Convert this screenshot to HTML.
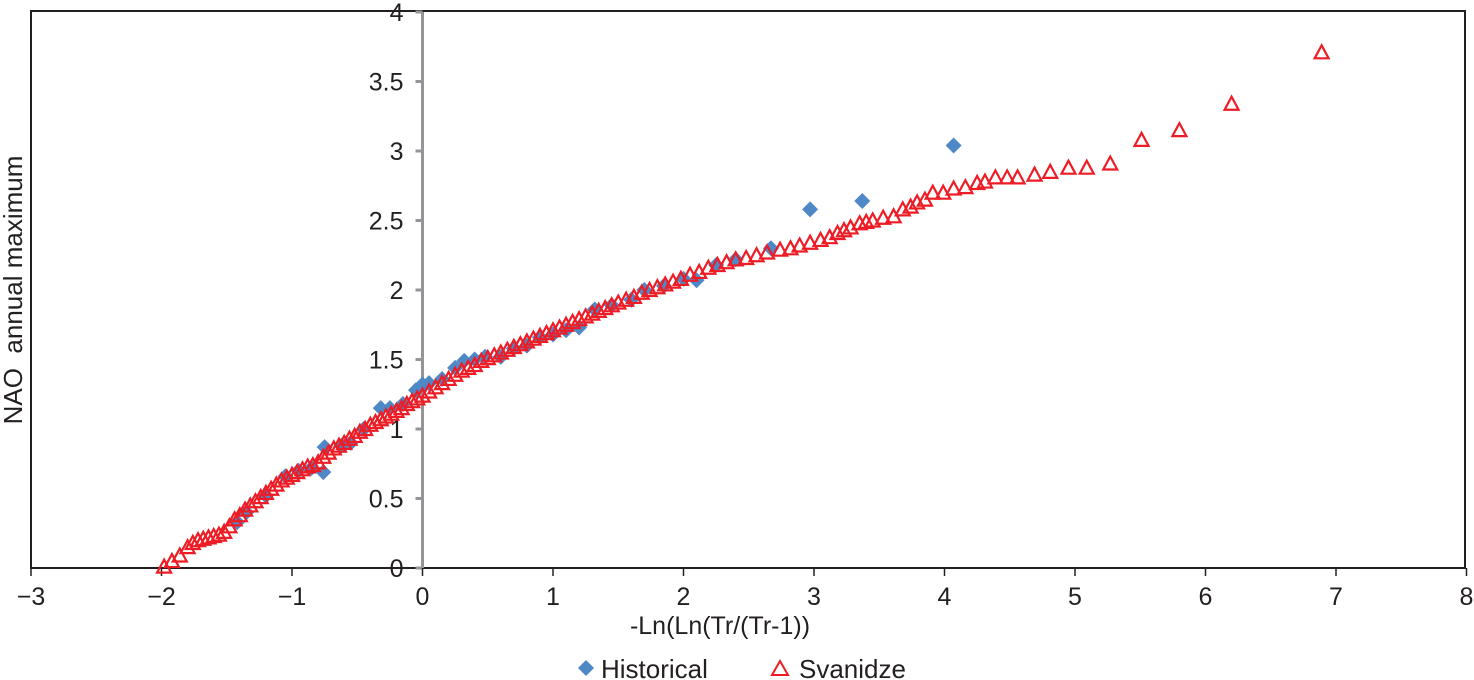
<!DOCTYPE html>
<html><head><meta charset="utf-8"><style>
body{margin:0;background:#fff;}
svg{display:block;font-family:"Liberation Sans",Arial,sans-serif;}
</style></head><body>
<svg id="chart" width="1474" height="680" viewBox="0 0 1474 680" xmlns="http://www.w3.org/2000/svg">
<rect x="31" y="11" width="1434" height="557" fill="#fff" stroke="#231f20" stroke-width="2"/>
<g id="axes"></g>
<g id="hist"></g>
<g id="svan"></g>
<text x="720" y="634" font-size="25" text-anchor="middle" fill="#231f20">-Ln(Ln(Tr/(Tr-1))</text>
<text transform="translate(22,290) rotate(-90)" font-size="26" text-anchor="middle" fill="#231f20" xml:space="preserve">NAO  annual maximum</text>
<g>
<g>
<path d="M586 660 L594 668 L586 676 L578 668 Z" fill="#4f88c6"/>
<text x="601" y="678" font-size="26" fill="#231f20">Historical</text>
</g>
<g>
<path d="M772 675 L780 661 L788 675 Z" fill="none" stroke="#ee1c25" stroke-width="2"/>
<text x="799" y="678" font-size="26" fill="#231f20">Svanidze</text>
</g>
</g>
</svg>
<script>
const xTicks=[-3,-2,-1,0,1,2,3,4,5,6,7,8];
const yTicks=[0,0.5,1,1.5,2,2.5,3,3.5,4];
const svX=[-1.98,-1.92,-1.86,-1.80,-1.76,-1.72,-1.68,-1.64,-1.60,-1.56,-1.52,-1.48,-1.44,-1.40,-1.36,-1.32,-1.28,-1.24,-1.20,-1.16,-1.12,-1.08,-1.04,-1.00,-0.96,-0.92,-0.88,-0.84,-0.80,-0.76,-0.72,-0.68,-0.64,-0.60,-0.56,-0.52,-0.48,-0.44,-0.40,-0.36,-0.32,-0.28,-0.24,-0.20,-0.16,-0.12,-0.08,-0.04,0.00,0.05,0.10,0.15,0.20,0.25,0.30,0.35,0.40,0.45,0.50,0.55,0.60,0.65,0.70,0.75,0.80,0.85,0.90,0.95,1.00,1.05,1.10,1.15,1.20,1.25,1.30,1.35,1.40,1.45,1.50,1.56,1.62,1.68,1.74,1.80,1.86,1.92,1.98,2.05,2.12,2.19,2.26,2.33,
2.40,2.48,2.56,2.64,2.74,2.82,2.89,2.97,3.05,3.12,3.18,3.23,3.28,3.35,3.40,3.45,3.53,3.61,3.68,3.74,3.79,3.85,3.91,3.99,4.07,4.16,4.25,4.31,4.39,4.48,4.56,4.69,4.81,4.95,5.09,5.27,5.51,5.80,6.20,6.89];
const svY=[0.01,0.05,0.09,0.15,0.18,0.20,0.21,0.22,0.23,0.24,0.26,0.30,0.35,0.38,0.42,0.45,0.48,0.51,0.54,0.57,0.60,0.63,0.65,0.67,0.69,0.71,0.73,0.74,0.76,0.80,0.83,0.86,0.88,0.90,0.93,0.95,0.98,1.00,1.03,1.05,1.07,1.09,1.11,1.13,1.15,1.18,1.20,1.22,1.24,1.27,1.30,1.33,1.36,1.39,1.42,1.44,1.46,1.49,1.51,1.53,1.55,1.57,1.59,1.61,1.63,1.65,1.67,1.69,1.71,1.73,1.75,1.77,1.79,1.81,1.83,1.85,1.87,1.89,1.91,1.93,1.95,1.98,2.00,2.02,2.04,2.06,2.08,2.11,2.13,2.16,2.18,2.20,
2.22,2.23,2.25,2.27,2.29,2.30,2.32,2.34,2.36,2.38,2.41,2.43,2.45,2.48,2.49,2.50,2.52,2.53,2.58,2.60,2.63,2.65,2.70,2.70,2.73,2.74,2.77,2.78,2.81,2.81,2.81,2.83,2.85,2.88,2.88,2.91,3.08,3.15,3.34,3.71];
const hX=[-1.42,-1.35,-1.2,-1.05,-0.95,-0.85,-0.76,-0.75,-0.62,-0.55,-0.45,-0.32,-0.25,-0.15,-0.05,0.0,0.05,0.15,0.25,0.32,0.4,0.48,0.6,0.7,0.8,0.9,1.0,1.1,1.2,1.32,1.45,1.6,1.7,1.85,2.0,2.1,2.25,2.4,2.67,2.97,3.37,4.07];
const hY=[0.33,0.40,0.52,0.66,0.70,0.72,0.69,0.87,0.88,0.90,1.00,1.15,1.15,1.18,1.28,1.32,1.33,1.36,1.44,1.49,1.50,1.52,1.52,1.58,1.60,1.66,1.68,1.71,1.73,1.86,1.89,1.93,2.00,2.03,2.08,2.07,2.18,2.22,2.30,2.58,2.64,3.04];
const NS='http://www.w3.org/2000/svg';
const sx=v=>422.5+v*130.5;
const sy=v=>568-v*139;
function mk(tag,attrs,parent){const e=document.createElementNS(NS,tag);for(const k in attrs)e.setAttribute(k,attrs[k]);parent.appendChild(e);return e;}
const ax=document.getElementById('axes');
const yl=mk('line',{x1:sx(0),y1:sy(4),x2:sx(0),y2:568,stroke:'#939598','stroke-width':3},ax);


yTicks.forEach(t=>{
 const l=mk('line',{x1:sx(0)-7,x2:sx(0),y1:sy(t),y2:sy(t),stroke:'#939598','stroke-width':3},ax);
 
 
 const tx=mk('text',{x:sx(0)-19,y:sy(t)+9,'font-size':25,'text-anchor':'end',fill:'#231f20'},ax);
 tx.textContent=String(t);
 
 
});
xTicks.forEach(t=>{
 const l=mk('line',{x1:sx(t),x2:sx(t),y1:568,y2:576,stroke:'#231f20','stroke-width':1.5},ax);
 
 
 const tx=mk('text',{x:sx(t),y:605,'font-size':25,'text-anchor':'middle',fill:'#231f20'},ax);
 tx.textContent=t<0?'\u2212'+(-t):String(t);
 
 
});
const hg=document.getElementById('hist');
hX.forEach((x,i)=>{
 const cx=sx(x),cy=sy(hY[i]);
 const p=mk('path',{d:`M${cx} ${cy-8}L${cx+8} ${cy}L${cx} ${cy+8}L${cx-8} ${cy}Z`,fill:'#4f88c6'},hg);
 
 
});
const sg=document.getElementById('svan');
svX.forEach((x,i)=>{
 const cx=sx(x),cy=sy(svY[i]);
 const p=mk('path',{d:`M${cx-7} ${cy+6}L${cx} ${cy-7}L${cx+7} ${cy+6}Z`,fill:'none',stroke:'#ee1c25','stroke-width':2.2},sg);
 
 
});
</script>
</body></html>
